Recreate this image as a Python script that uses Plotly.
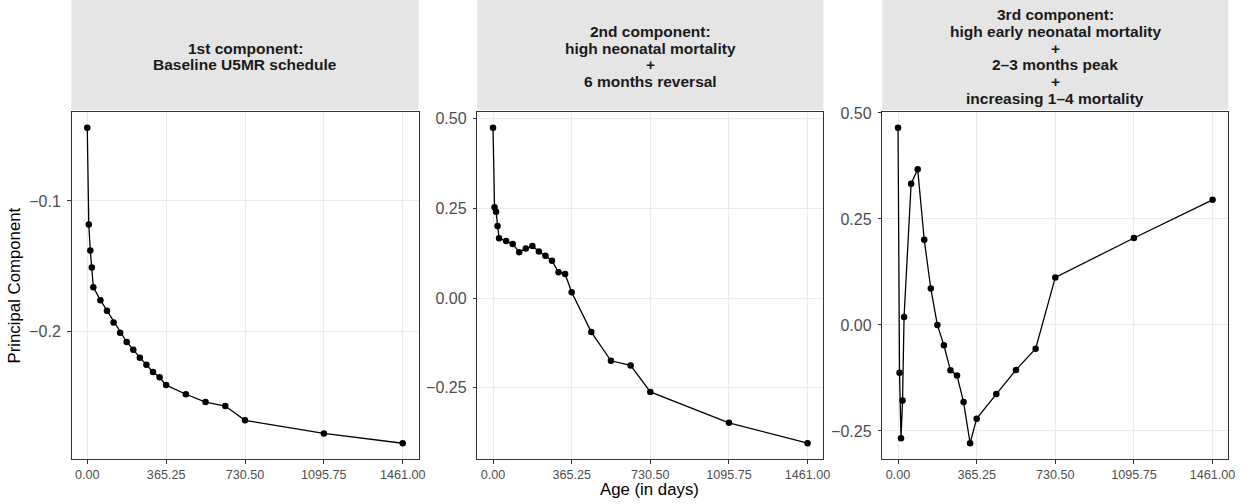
import plotly.graph_objects as go

# Ages (days): 0, 7, 14, 21, 28, months 2..12, 15, 18, 21, 24, 36, 48 months
age_days = [0, 7, 14, 21, 28,
            60.875, 91.3125, 121.75, 152.1875, 182.625, 213.0625, 243.5,
            273.9375, 304.375, 334.8125, 365.25,
            456.5625, 547.875, 639.1875, 730.5, 1095.75, 1461.0]

pc1 = [-0.044, -0.118, -0.138, -0.151, -0.166, -0.176, -0.184, -0.193,
       -0.201, -0.208, -0.214, -0.220, -0.2255, -0.231, -0.235, -0.241,
       -0.248, -0.254, -0.257, -0.268, -0.278, -0.2855]

pc2 = [0.475, 0.253, 0.241, 0.201, 0.167, 0.159, 0.151, 0.128, 0.138,
       0.145, 0.130, 0.118, 0.104, 0.072, 0.067, 0.016, -0.095, -0.175,
       -0.188, -0.262, -0.348, -0.405]

pc3 = [0.465, -0.113, -0.267, -0.178, 0.019, 0.333, 0.367, 0.201, 0.086,
       0.0, -0.048, -0.107, -0.119, -0.182, -0.279, -0.221, -0.163, -0.106,
       -0.056, 0.112, 0.205, 0.295]

strip_lines = [
    ["1st component:", "Baseline U5MR schedule"],
    ["2nd component:", "high neonatal mortality", "+", "6 months reversal"],
    ["3rd component:", "high early neonatal mortality", "+",
     "2\u20133 months peak", "+", "increasing 1\u20134 mortality"],
]

x_tickvals = [0, 365.25, 730.5, 1095.75, 1461.0]
x_ticktext = ["0.00", "365.25", "730.50", "1095.75", "1461.00"]

y_tickvals = [[-0.1, -0.2], [0.5, 0.25, 0.0, -0.25], [0.5, 0.25, 0.0, -0.25]]
y_ticktext = [["\u22120.1", "\u22120.2"],
              ["0.50", "0.25", "0.00", "\u22120.25"],
              ["0.50", "0.25", "0.00", "\u22120.25"]]

W, H = 1252, 504
panel_px = [(71.5, 418.5), (477.3, 823.3), (882.3, 1228.3)]
top_px, bot_px = 112, 459
strip_bottom_px = 110
strip_center_px = 56.5
strip_line_px = 16.8

FONT = "Liberation Sans, Arial, Helvetica, sans-serif"
series = [pc1, pc2, pc3]

fig = go.Figure()
layout = dict(
    template="none",
    width=W, height=H,
    margin=dict(l=0, r=0, t=0, b=0, pad=0),
    paper_bgcolor="white", plot_bgcolor="white",
    showlegend=False,
    font=dict(family=FONT, color="#4D4D4D", size=12.5),
    shapes=[], annotations=[],
)

for i, ys in enumerate(series):
    xa = "x" if i == 0 else f"x{i+1}"
    ya = "y" if i == 0 else f"y{i+1}"
    fig.add_trace(go.Scatter(
        x=age_days, y=ys, mode="lines+markers",
        line=dict(color="black", width=1.3),
        marker=dict(color="black", size=6.5),
        xaxis=xa, yaxis=ya, hoverinfo="x+y",
    ))
    lo, hi = min(ys), max(ys)
    pad = (hi - lo) * 0.05
    x0, x1 = panel_px[i]
    common = dict(
        automargin=False,
        showgrid=True, gridcolor="#EBEBEB", gridwidth=1.1,
        zeroline=False, showline=True, mirror=True,
        linecolor="#333333", linewidth=1,
        ticks="outside", ticklen=3.5, tickcolor="#333333", tickwidth=1,
    )
    layout["xaxis" if i == 0 else f"xaxis{i+1}"] = dict(
        domain=[x0 / W, x1 / W], anchor=ya,
        range=[-0.05 * 1461, 1.05 * 1461],
        tickmode="array", tickvals=x_tickvals, ticktext=x_ticktext,
        tickfont=dict(family=FONT, size=12.6, color="#4D4D4D"),
        **common,
    )
    layout["yaxis" if i == 0 else f"yaxis{i+1}"] = dict(
        domain=[1 - bot_px / H, 1 - top_px / H], anchor=xa,
        range=[lo - pad, hi + pad],
        tickmode="array", tickvals=y_tickvals[i], ticktext=y_ticktext[i],
        tickfont=dict(family=FONT, size=16, color="#4D4D4D"),
        ticklabelstandoff=3,
        **common,
    )
    dref = xa + " domain"
    layout["shapes"].append(dict(
        type="rect", xref=dref, yref="paper",
        x0=0, x1=1, y0=1 - strip_bottom_px / H, y1=1.0,
        fillcolor="#E5E5E5", line=dict(width=0), layer="below",
    ))
    lines = strip_lines[i]
    n = len(lines)
    for k, txt in enumerate(lines):
        ypx = strip_center_px + (k - (n - 1) / 2) * strip_line_px
        layout["annotations"].append(dict(
            xref=dref, yref="paper", x=0.5, y=1 - ypx / H,
            xanchor="center", yanchor="middle", showarrow=False,
            text="<b>" + txt + "</b>",
            font=dict(family=FONT, size=15.5, color="#1A1A1A"),
        ))

# axis titles
layout["annotations"].append(dict(
    xref="paper", yref="paper",
    x=((panel_px[0][0] + panel_px[2][1]) / 2) / W, y=1 - 489 / H,
    xanchor="center", yanchor="middle", showarrow=False,
    text="Age (in days)", font=dict(family=FONT, size=16.8, color="black"),
))
layout["annotations"].append(dict(
    xref="paper", yref="paper",
    x=14 / W, y=1 - ((top_px + bot_px) / 2) / H,
    xanchor="center", yanchor="middle", showarrow=False, textangle=-90,
    text="Principal Component", font=dict(family=FONT, size=16.8, color="black"),
))

fig.update_layout(**layout)
fig.write_html(
    "out.html",
    config={"displayModeBar": False},
    post_script="document.body.style.margin='0';document.body.style.overflow='hidden';",
)
